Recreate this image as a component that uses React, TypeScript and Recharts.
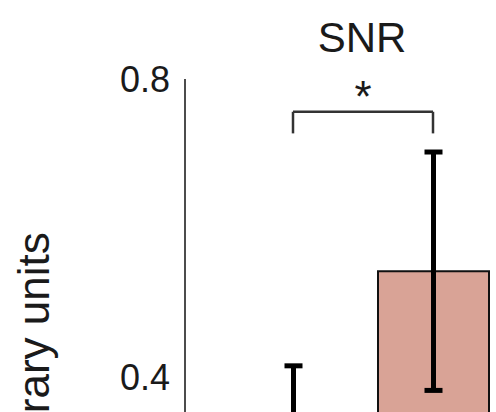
import { Bar, BarChart, Cell, Customized, ErrorBar, Label, ReferenceLine, YAxis, XAxis } from "recharts";

const groups = ["ctrl", "snr"];
const means = [0.25, 0.542];
const errors = [0.165, 0.16];
const barColors = ["#c9c9c9", "#d9a396"];
const yTicks = [0.4, 0.8];
const bracketTop = 0.756;
const bracketFoot = 0.727;

const data = groups.map((g, i) => ({ group: g, mean: means[i], err: errors[i] }));

const font = "'Liberation Sans', Arial, sans-serif";

function Title() {
  return (
    <text x={362} y={52} textAnchor="middle" fontSize={42} fontFamily={font} fill="#1a1a1a">
      SNR
    </text>
  );
}

function YLabel() {
  return (
    <text
      transform="translate(33,368) rotate(-90)"
      textAnchor="middle"
      dominantBaseline="central"
      fontSize={44}
      fontFamily={font}
      fill="#1a1a1a"
    >
      Arbitrary units
    </text>
  );
}

export default function App() {
  return (
    <div
      style={{
        position: "fixed",
        left: 0,
        top: 0,
        width: 496,
        height: 412,
        overflow: "hidden",
        background: "#fff",
      }}
    >
      <BarChart
        width={520}
        height={700}
        data={data}
        margin={{ top: 79, right: 17, bottom: 25, left: 0 }}
        barSize={111}
      >
        <XAxis dataKey="group" hide padding={{ left: 38, right: 0 }} />
        <YAxis
          width={185}
          domain={[0, 0.8]}
          ticks={yTicks}
          tickLine={false}
          tickMargin={9}
          axisLine={{ stroke: "#111", strokeWidth: 1.5 }}
          tick={{ fontSize: 36, fill: "#1a1a1a", fontFamily: font }}
          label={{ content: () => <YLabel /> }}
        />
        <Bar dataKey="mean" stroke="#111" strokeWidth={2} isAnimationActive={false}>
          {data.map((d, i) => (
            <Cell key={d.group} fill={barColors[i]} />
          ))}
          <ErrorBar dataKey="err" width={9} stroke="#000" strokeWidth={5} />
        </Bar>
        <ReferenceLine
          segment={[
            { x: "ctrl", y: bracketTop },
            { x: "snr", y: bracketTop },
          ]}
          stroke="#333"
          strokeWidth={2.5}
        >
          <Label value="*" position="top" offset={0} fontSize={44} fill="#1a1a1a" fontFamily={font} />
        </ReferenceLine>
        <ReferenceLine
          segment={[
            { x: "ctrl", y: bracketTop },
            { x: "ctrl", y: bracketFoot },
          ]}
          stroke="#333"
          strokeWidth={2.5}
        />
        <ReferenceLine
          segment={[
            { x: "snr", y: bracketTop },
            { x: "snr", y: bracketFoot },
          ]}
          stroke="#333"
          strokeWidth={2.5}
        />
        <Customized component={Title} />
      </BarChart>
    </div>
  );
}
